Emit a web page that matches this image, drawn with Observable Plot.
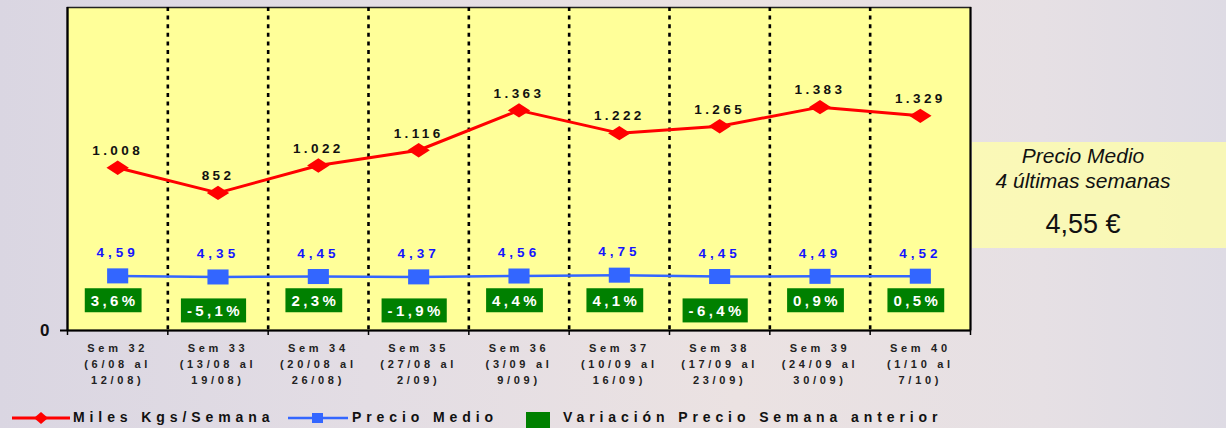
<!DOCTYPE html>
<html><head><meta charset="utf-8">
<script src="https://cdn.jsdelivr.net/npm/d3@7"></script>
<script src="https://cdn.jsdelivr.net/npm/@observablehq/plot@0.6"></script>
<style>
html,body{margin:0;padding:0;}
body{width:1226px;height:428px;overflow:hidden;position:relative;font-family:"Liberation Sans",Arial,sans-serif;
background:linear-gradient(90deg,#dad6e2 0%,#e3dde4 30%,#ebe2e2 60%,#e6e0e4 85%,#dedbe4 100%);}
#chart{position:absolute;left:0;top:0;}
#panel{position:absolute;left:972px;top:142px;width:254px;height:106px;background:rgba(255,255,170,0.78);color:#111;}
#panel div{position:absolute;left:0;width:222px;text-align:center;white-space:nowrap;}
.leg{position:absolute;font-weight:bold;font-size:14px;letter-spacing:4.9px;color:#111;line-height:16px;white-space:nowrap;}
.sw{position:absolute;}
</style></head>
<body>
<div id="chart"></div>
<div id="panel">
  <div style="top:1px;font-size:21px;line-height:25px;font-style:italic;">Precio Medio</div>
  <div style="top:26px;font-size:21px;line-height:25px;font-style:italic;">4 últimas semanas</div>
  <div style="top:66px;font-size:27px;line-height:32px;">4,55 €</div>
</div>
<svg class="sw" style="left:10px;top:410px" width="62" height="16"><line x1="2" x2="60" y1="8" y2="8" stroke="#ff0000" stroke-width="3"/><polygon points="31,2 38,8 31,14 24,8" fill="#ff0000"/></svg>
<span class="leg" style="left:73px;top:409px;">Miles Kgs/Semana</span>
<svg class="sw" style="left:287px;top:410px" width="62" height="16"><line x1="1" x2="61" y1="8" y2="8" stroke="#3366ff" stroke-width="2.5"/><rect x="25" y="3" width="11" height="10" fill="#3366ff"/></svg>
<span class="leg" style="left:352px;top:409px;">Precio Medio</span>
<div class="sw" style="left:526px;top:412px;width:24px;height:20px;background:#008000;"></div>
<span class="leg" style="left:563px;top:409px;">Variación Precio Semana anterior</span>
<script>
const weeks = ["Sem 32","Sem 33","Sem 34","Sem 35","Sem 36","Sem 37","Sem 38","Sem 39","Sem 40"];
const rangeStart = ["(6/08 al","(13/08 al","(20/08 al","(27/08 al","(3/09 al","(10/09 al","(17/09 al","(24/09 al","(1/10 al"];
const rangeEnd = ["12/08)","19/08)","26/08)","2/09)","9/09)","16/09)","23/09)","30/09)","7/10)"];
const kgs = [1008, 852, 1022, 1116, 1363, 1222, 1265, 1383, 1329];
const prices = [4.59, 4.35, 4.45, 4.37, 4.56, 4.75, 4.45, 4.49, 4.52];
const variation = [3.6, -5.1, 2.3, -1.9, 4.4, 4.1, -6.4, 0.9, 0.5];

const loc = d3.formatLocale({decimal: ",", thousands: ".", grouping: [3], currency: ["", " €"], minus: "-"});
const fmtKg = loc.format(",.0f");
const fmtPrice = loc.format(".2f");
const fmtVar = loc.format(".1f");

const data = weeks.map((w, i) => ({
  i, week: w, label: w + "\n" + rangeStart[i] + "\n" + rangeEnd[i],
  kg: kgs[i], price: prices[i], v: variation[i]
}));

// secondary axis (price) mapped onto the primary (kgs) axis
const secondary = d3.scaleLinear().domain([-7.5, 64]).range([0, 2000]);

const n = weeks.length;
const separators = d3.range(1, n).map(i => i - 0.5);
const boundaries = d3.range(0, n + 1).map(i => i - 0.5);

const flatDiamond = {draw(ctx, size) {
  const r = Math.sqrt(size / Math.PI);
  const w = r * 1.4, h = r * 0.9;
  ctx.moveTo(0, -h); ctx.lineTo(w, 0); ctx.lineTo(0, h); ctx.lineTo(-w, 0); ctx.closePath();
}};
const flatSquare = {draw(ctx, size) {
  const r = Math.sqrt(size / Math.PI);
  const w = r * 1.32, h = r * 0.94;
  ctx.rect(-w, -h, 2 * w, 2 * h);
}};

const chart = Plot.plot({
  width: 1226,
  height: 398,
  marginLeft: 67,
  marginRight: 256,
  marginTop: 7,
  marginBottom: 68,
  style: {background: "transparent", fontFamily: "'Liberation Sans', Arial, sans-serif", overflow: "visible"},
  x: {domain: [-0.5, n - 0.5], axis: null},
  y: {domain: [0, 2000], axis: null},
  marks: [
    Plot.frame({fill: "#ffff99", stroke: "#222", strokeWidth: 1.5}),
    Plot.ruleX(separators, {stroke: "#000", strokeWidth: 2.6, strokeDasharray: "4,4.6"}),
    Plot.ruleX([-0.5], {stroke: "#000", strokeWidth: 2.2}),
    Plot.ruleX([n - 0.5], {stroke: "#000", strokeWidth: 2}),
    Plot.ruleY([0], {stroke: "#000", strokeWidth: 2.2}),
    Plot.axisX({ticks: boundaries, tickFormat: () => "", tickSize: 5, stroke: "#000", strokeWidth: 1.5, label: null}),
    Plot.axisY({ticks: [0], tickFormat: d => String(d), tickSize: 7, tickPadding: 11, fontSize: 17, fontWeight: "bold", stroke: "#000", strokeWidth: 2, fill: "#111", label: null}),
    Plot.text(data, {x: "i", y: 0, text: "label", dy: 32, lineAnchor: "middle", lineHeight: 1.45, fontSize: 11, fontWeight: "bold", fill: "#222"}),
    Plot.line(data, {x: "i", y: "kg", stroke: "#ff0000", strokeWidth: 3}),
    Plot.dot(data, {x: "i", y: "kg", symbol: flatDiamond, r: 8, fill: "#ff0000"}),
    Plot.text(data, {x: "i", y: "kg", text: d => fmtKg(d.kg), dy: -17, fontSize: 13.5, fontWeight: "bold", fill: "#111"}),
    Plot.line(data, {x: "i", y: d => secondary(d.price), stroke: "#3366ff", strokeWidth: 2.5}),
    Plot.dot(data, {x: "i", y: d => secondary(d.price), symbol: flatSquare, r: 8, fill: "#3366ff"}),
    Plot.text(data, {x: "i", y: d => secondary(d.price), text: d => fmtPrice(d.price), dy: -23, fontSize: 13.5, fontWeight: "bold", fill: "#1414ff"}),
    Plot.text(data, {x: "i", y: d => d.v >= 0 ? 183 : 120, text: d => fmtVar(d.v) + "%", dx: -3, fontSize: 15, fontWeight: "bold", fill: "#fff"})
  ]
});

document.getElementById("chart").appendChild(chart);

// text mark groups in mark order: x labels, kg labels, price labels, variation labels
const textGroups = chart.querySelectorAll('g[aria-label="text"]');
const spacing = [3.7, 3.4, 4, 3.4];
textGroups.forEach((g, k) => {
  g.querySelectorAll("text").forEach(t => { t.style.letterSpacing = spacing[k] + "px"; });
});
chart.querySelectorAll('g[aria-label="y-axis tick label"] text').forEach(t => { t.style.fontWeight = "bold"; });

// green boxes behind variation labels, sized from the rendered text
const varGroup = textGroups[3];
if (varGroup) {
  varGroup.querySelectorAll("text").forEach(t => {
    const b = t.getBBox();
    const cy = b.y + b.height / 2;
    const rect = document.createElementNS("http://www.w3.org/2000/svg", "rect");
    rect.setAttribute("x", b.x - 6);
    rect.setAttribute("y", cy - 12);
    rect.setAttribute("width", b.width + 9);
    rect.setAttribute("height", 24);
    rect.setAttribute("fill", "#008000");
    const tr = t.getAttribute("transform");
    if (tr) rect.setAttribute("transform", tr);
    t.parentNode.insertBefore(rect, t);
  });
}
</script>
</body></html>
